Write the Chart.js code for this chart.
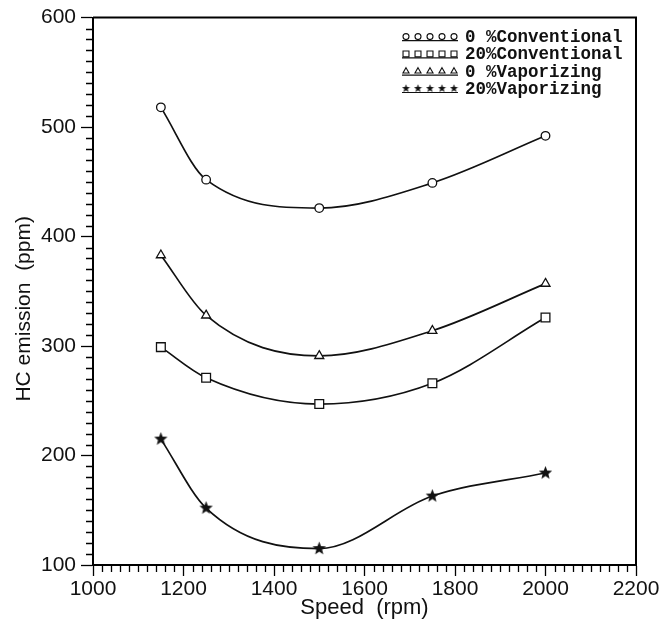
<!DOCTYPE html>
<html>
<head>
<meta charset="utf-8">
<script src="https://cdn.jsdelivr.net/npm/chart.js@4"></script>
<style>
  html, body { margin: 0; padding: 0; background: #fff; }
  #wrap { width: 662px; height: 621px; }
</style>
</head>
<body>
<div id="wrap"><canvas id="c" width="662" height="621"></canvas></div>
<script>
// Engine speed (rpm)
const speeds = [1150, 1250, 1500, 1750, 2000];
// HC emission (ppm) per fuel setup
const conv0  = [518, 452, 426, 449, 492];
const conv20 = [299, 271, 247, 266, 326];
const vap0   = [383, 328, 291, 314, 357];
const vap20  = [215, 152, 115, 163, 184];
const seriesNames = ['0 %Conventional', '20%Conventional', '0 %Vaporizing', '20%Vaporizing'];
// Axis ticks
const xTicks = [1000, 1200, 1400, 1600, 1800, 2000, 2200];
const yTicks = [100, 200, 300, 400, 500, 600];

const INK = '#111';

// filled five-point star used as a marker image
function starImage(size, outer, inner) {
  const cv = document.createElement('canvas');
  cv.width = size; cv.height = size;
  const g = cv.getContext('2d');
  const c = size / 2;
  g.beginPath();
  for (let i = 0; i < 10; i++) {
    const r = i % 2 === 0 ? outer : inner;
    const a = -Math.PI / 2 + i * Math.PI / 5;
    const px = c + r * Math.cos(a), py = c + r * Math.sin(a);
    i === 0 ? g.moveTo(px, py) : g.lineTo(px, py);
  }
  g.closePath();
  g.fillStyle = INK;
  g.fill();
  return cv;
}
const starBig = starImage(15, 7, 3);
const starSmall = starImage(9, 4.2, 1.8);

function pts(ys) { return speeds.map((x, i) => ({ x, y: ys[i] })); }

function ds(label, ys, style, radius, legendStyle, legendRadius) {
  return {
    label, data: pts(ys),
    borderColor: INK, borderWidth: 1.7,
    backgroundColor: '#fff',
    pointStyle: style, pointRadius: radius, pointBorderWidth: 1.3,
    pointBorderColor: INK, pointBackgroundColor: '#fff',
    cubicInterpolationMode: 'monotone', fill: false,
    legendStyle, legendRadius
  };
}

// frame on top and right, minor ticks, and the marker legend
const decor = {
  id: 'decor',
  afterDraw(chart) {
    const { ctx, chartArea: a, scales } = chart;
    ctx.save();
    ctx.strokeStyle = '#000';
    ctx.lineWidth = 2;
    ctx.beginPath();
    ctx.moveTo(a.left, a.top); ctx.lineTo(a.right, a.top); ctx.lineTo(a.right, a.bottom);
    ctx.stroke();

    // minor ticks
    ctx.lineWidth = 1.3;
    ctx.beginPath();
    for (let v = 110; v < 600; v += 10) {
      if (v % 100 === 0) continue;
      const y = Math.round(scales.y.getPixelForValue(v)) + 0.5;
      ctx.moveTo(a.left - 7, y); ctx.lineTo(a.left, y);
    }
    for (let v = 1020; v < 2200; v += 20) {
      if (v % 200 === 0) continue;
      const x = Math.round(scales.x.getPixelForValue(v)) + 0.5;
      ctx.moveTo(x, a.bottom); ctx.lineTo(x, a.bottom + 7);
    }
    ctx.stroke();

    // legend
    const x0 = a.right - 234, x1 = a.right - 178, tx = a.right - 171;
    ctx.font = 'bold 17.5px "Liberation Mono", "Courier New", monospace';
    ctx.textBaseline = 'middle';
    chart.data.datasets.forEach((d, i) => {
      const y = a.top + 19 + i * 17.3;
      ctx.strokeStyle = INK;
      ctx.lineWidth = 1.2;
      ctx.beginPath();
      ctx.moveTo(x0, y + 4); ctx.lineTo(x1, y + 4);
      ctx.stroke();
      for (let k = 0; k < 5; k++) {
        const mx = x0 + 4 + k * 12;
        ctx.fillStyle = '#fff';
        ctx.strokeStyle = INK;
        ctx.lineWidth = 1.1;
        Chart.helpers.drawPoint(ctx, {
          pointStyle: d.legendStyle, radius: d.legendRadius,
          rotation: 0, borderWidth: 1.1
        }, mx, y);
      }
      ctx.fillStyle = INK;
      ctx.fillText(d.label, tx, y + 1);
    });
    ctx.restore();
  }
};

const tickFont = { family: 'Liberation Sans, Arial, sans-serif', size: 21 };
const titleFontY = { family: 'Liberation Sans, Arial, sans-serif', size: 21 };
const titleFontX = { family: 'Liberation Sans, Arial, sans-serif', size: 22 };

new Chart(document.getElementById('c'), {
  type: 'line',
  data: {
    datasets: [
      ds(seriesNames[0], conv0, 'circle', 4.3, 'circle', 3),
      ds(seriesNames[1], conv20, 'rect', 6.2, 'rect', 4.2),
      ds(seriesNames[2], vap0, 'triangle', 5.2, 'triangle', 3.5),
      ds(seriesNames[3], vap20, starBig, 7, starSmall, 4)
    ]
  },
  options: {
    responsive: false,
    animation: false,
    layout: { padding: { left: 0, top: 16, right: 26, bottom: 0 } },
    plugins: { legend: { display: false }, tooltip: { enabled: false } },
    scales: {
      x: {
        type: 'linear', min: 1000, max: 2200,
        afterBuildTicks(s) { s.ticks = xTicks.map(v => ({ value: v })); },
        afterFit(s) { s.height = 56; },
        ticks: { color: INK, font: tickFont, padding: 1, maxRotation: 0, callback: v => String(v) },
        grid: { drawOnChartArea: false, drawTicks: true, tickLength: 11, tickColor: '#000', tickWidth: 1.3 },
        border: { display: true, color: '#000', width: 2 },
        title: { display: true, text: 'Speed  (rpm)', color: INK, font: titleFontX, padding: { top: 0, bottom: 0 } }
      },
      y: {
        type: 'linear', min: 100, max: 600,
        afterBuildTicks(s) { s.ticks = yTicks.map(v => ({ value: v })); },
        afterFit(s) { s.width = 93; },
        ticks: { color: INK, font: tickFont, padding: 5, callback: v => String(v) },
        grid: { drawOnChartArea: false, drawTicks: true, tickLength: 12, tickColor: '#000', tickWidth: 1.3 },
        border: { display: true, color: '#000', width: 2 },
        title: { display: true, text: 'HC emission  (ppm)      ', color: INK, font: titleFontY, padding: { top: 12, bottom: 0 } }
      }
    }
  },
  plugins: [decor]
});
</script>
</body>
</html>
